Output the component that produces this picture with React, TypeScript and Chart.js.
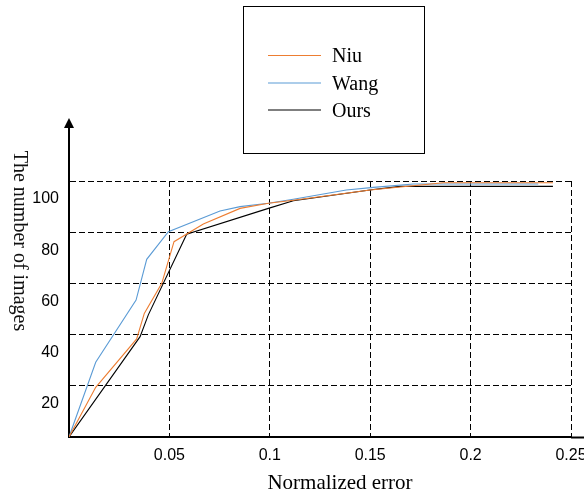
import React, { useEffect, useRef } from 'react';
import { Chart, registerables } from 'chart.js';

Chart.register(...registerables);

const seriesNames = ['Niu', 'Wang', 'Ours'];
const seriesColors = ['#ED7D31', '#5B9BD5', '#000000'];

const niuX = [0, 0.0133, 0.0337, 0.0375, 0.0462, 0.0523, 0.0669, 0.0852, 0.0993, 0.1117, 0.15, 0.1864, 0.241];
const niuY = [0, 19.4, 38.3, 48.3, 60.0, 76.3, 83.2, 89.3, 91.3, 92.5, 96.5, 99.3, 99.3];

const wangX = [0, 0.0133, 0.0334, 0.0387, 0.0495, 0.0752, 0.0852, 0.0993, 0.1117, 0.1381, 0.1516, 0.1715, 0.2337];
const wangY = [0, 29.2, 53.5, 69.4, 80.2, 88.3, 90.0, 91.3, 92.9, 96.5, 97.5, 98.8, 98.8];

const oursX = [0, 0.0354, 0.0395, 0.0586, 0.0993, 0.1117, 0.1516, 0.165, 0.241];
const oursY = [0, 39.2, 47.7, 79.2, 89.3, 92.3, 96.7, 97.9, 97.9];

const xTickLabels = ['', '0.05', '0.1', '0.15', '0.2', '0.25'];
const yTickLabels = ['', '20', '40', '60', '80', '100'];
const xTitle = 'Normalized error';
const yTitle = 'The number of images';

const toPoints = (xs: number[], ys: number[]) => xs.map((x, i) => ({ x, y: ys[i] }));

const decorPlugin = {
  id: 'decor',
  afterDraw(chart: any) {
    const { ctx, chartArea: ca, width } = chart;
    ctx.save();
    // y axis arrow extension
    ctx.strokeStyle = '#000';
    ctx.lineWidth = 2;
    ctx.beginPath();
    ctx.moveTo(ca.left, ca.top);
    ctx.lineTo(ca.left, ca.top - 55);
    ctx.stroke();
    ctx.fillStyle = '#000';
    ctx.beginPath();
    ctx.moveTo(ca.left, ca.top - 63);
    ctx.lineTo(ca.left - 5, ca.top - 53);
    ctx.lineTo(ca.left + 5, ca.top - 53);
    ctx.closePath();
    ctx.fill();
    // x axis extension
    ctx.beginPath();
    ctx.moveTo(ca.right, ca.bottom + 0.5);
    ctx.lineTo(width, ca.bottom + 0.5);
    ctx.stroke();

    // x title
    ctx.fillStyle = '#000';
    ctx.font = '21px "Liberation Serif"';
    ctx.textAlign = 'center';
    ctx.textBaseline = 'alphabetic';
    ctx.fillText(xTitle, 340, 489);

    // y title rotated clockwise
    ctx.save();
    ctx.translate(19, 241);
    ctx.rotate(Math.PI / 2);
    ctx.font = '20px "Liberation Serif"';
    ctx.textAlign = 'center';
    ctx.textBaseline = 'middle';
    ctx.fillStyle = '#111';
    ctx.fillText(yTitle, 0, 0);
    ctx.restore();

    // legend
    ctx.lineWidth = 1;
    ctx.strokeStyle = '#000';
    ctx.strokeRect(243.5, 6.5, 181, 147);
    const rowsY = [55, 82.5, 109.5];
    ctx.font = '20px "Liberation Serif"';
    ctx.textAlign = 'left';
    ctx.textBaseline = 'alphabetic';
    seriesNames.forEach((name, i) => {
      const y = rowsY[i];
      ctx.strokeStyle = seriesColors[i];
      ctx.lineWidth = 1.2;
      ctx.beginPath();
      ctx.moveTo(268, y + 0.5);
      ctx.lineTo(321, y + 0.5);
      ctx.stroke();
      ctx.fillStyle = '#000';
      ctx.fillText(name, 332, y + 7);
    });
    ctx.restore();
  },
};

export default function App() {
  const ref = useRef<HTMLCanvasElement | null>(null);
  useEffect(() => {
    if (!ref.current) return;
    const all = [
      toPoints(niuX, niuY),
      toPoints(wangX, wangY),
      toPoints(oursX, oursY),
    ];
    const chart = new Chart(ref.current, {
      type: 'line',
      data: {
        datasets: all.map((pts, i) => ({
          label: seriesNames[i],
          data: pts,
          borderColor: seriesColors[i],
          backgroundColor: seriesColors[i],
          borderWidth: 1.1,
          pointRadius: 0,
          tension: 0,
          fill: false,
        })),
      },
      options: {
        animation: false,
        responsive: false,
        events: [],
        layout: { padding: { left: 0, right: 13, top: 181, bottom: 0 } },
        plugins: {
          legend: { display: false },
          tooltip: { enabled: false },
          title: { display: false },
        },
        scales: {
          x: {
            type: 'linear',
            min: 0,
            max: 0.25,
            afterFit: (s: any) => {
              s.height = 57;
              s.paddingLeft = 0;
              s.paddingRight = 0;
            },
            ticks: {
              stepSize: 0.05,
              padding: 9,
              maxRotation: 0,
              autoSkip: false,
              color: '#000',
              font: { family: '"Liberation Sans"', size: 16 },
              callback: (_v: any, i: number) => xTickLabels[i] ?? '',
            },
            grid: { color: '#000', lineWidth: 1, drawTicks: false },
            border: { display: true, color: '#000', width: 2, dash: [6, 3] },
          },
          y: {
            type: 'linear',
            min: 0,
            max: 100,
            afterFit: (s: any) => {
              s.width = 69;
              s.paddingTop = 0;
              s.paddingBottom = 0;
            },
            ticks: {
              stepSize: 20,
              padding: 10,
              labelOffset: 18,
              autoSkip: false,
              color: '#000',
              font: { family: '"Liberation Sans"', size: 16 },
              callback: (_v: any, i: number) => yTickLabels[i] ?? '',
            },
            grid: { color: '#000', lineWidth: 1, drawTicks: false },
            border: { display: true, color: '#000', width: 2, dash: [6, 3] },
          },
        },
      },
      plugins: [decorPlugin],
    });
    return () => chart.destroy();
  }, []);
  return (
    <div style={{ position: 'fixed', left: 0, top: 0, width: 584, height: 494, background: '#fff' }}>
      <canvas ref={ref} width={584} height={494} />
    </div>
  );
}
